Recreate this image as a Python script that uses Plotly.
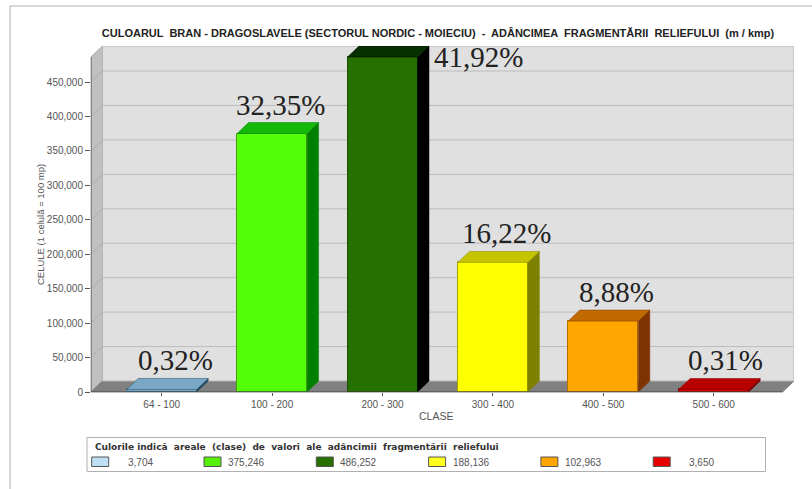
import plotly.graph_objects as go

categories = ["64 - 100", "100 - 200", "200 - 300", "300 - 400", "400 - 500", "500 - 600"]
cells = [3704, 375246, 486252, 188136, 102963, 3650]
percent_labels = ["0,32%", "32,35%", "41,92%", "16,22%", "8,88%", "0,31%"]
label_shift_x = [14, 8, 96, 14, 13, 12]
label_shift_y = [11, 11, -18, 11, 11, 11]
front_colors = ["#7ba7c7", "#55ff0a", "#267000", "#ffff00", "#ffa500", "#d40000"]
top_colors = ["#7ba7c7", "#14b80a", "#063000", "#c4c400", "#c06a00", "#b80000"]
side_colors = ["#1f4a60", "#008000", "#000000", "#808000", "#7f3300", "#800000"]
edge_colors = ["#3f6a85", "#3f9f10", "#1d5000", "#a0a000", "#b07000", "#900000"]
legend_colors = ["#bde0f5", "#55f00a", "#267000", "#ffff20", "#ffa500", "#e80000"]
y_ticks = [0, 50000, 100000, 150000, 200000, 250000, 300000, 350000, 400000, 450000]

title = "CULOARUL  BRAN - DRAGOSLAVELE (SECTORUL NORDIC - MOIECIU)  -  ADÂNCIMEA  FRAGMENTĂRII  RELIEFULUI  (m / kmp)"
legend_title = "Culorile indică  areale  (clase)  de  valori  ale  adâncimii  fragmentării  reliefului"

W, H = 812, 489
L, R, T, B = 91, 794, 46, 392
PX_PER_X = 110.4
PX_PER_Y = 34.44 / 50000
X0 = -(161.7 - L) / PX_PER_X
X1 = (R - 161.7) / PX_PER_X
Y1 = (B - T) / PX_PER_Y
DX = 11.5 / PX_PER_X
DY = 11 / PX_PER_Y
BW = 0.634


def px(v):
    return (v - L) / (R - L)


def py(v):
    return (B - v) / (B - T)


fig = go.Figure()

shapes = [
    dict(type="rect", layer="below", xref="x", yref="y", x0=X0 + DX, x1=X1, y0=DY, y1=Y1,
         fillcolor="#e0e0e0", line=dict(color="#b4b4b4", width=1)),
    dict(type="path", layer="below", xref="paper", yref="paper",
         path=f"M {px(L)} {py(B)} L {px(L + 11.5)} {py(B - 11)} L {px(L + 11.5)} {py(T)} L {px(L)} {py(T + 11)} Z",
         fillcolor="#c0c0c0", line=dict(color="#aaaaaa", width=1)),
    dict(type="path", layer="below", xref="paper", yref="paper",
         path=f"M {px(L)} {py(B)} L {px(L + 11.5)} {py(B - 11)} L {px(R)} {py(B - 11)} L {px(R - 11.5)} {py(B)} Z",
         fillcolor="#808080", line=dict(color="#808080", width=1)),
]
for t in y_ticks[1:]:
    shapes.append(dict(type="line", layer="below", xref="x", yref="y", x0=X0 + DX, x1=X1, y0=t + DY, y1=t + DY,
                       line=dict(color="#bcbcbc", width=1)))
    shapes.append(dict(type="line", layer="below", xref="x", yref="y", x0=X0, x1=X0 + DX, y0=t, y1=t + DY,
                       line=dict(color="#adadad", width=1)))
shapes.append(dict(type="line", layer="above", xref="x", yref="y", x0=X0, x1=X0, y0=0, y1=Y1 - DY,
                   line=dict(color="#555555", width=1)))
shapes.append(dict(type="line", layer="above", xref="x", yref="y", x0=X0, x1=X1 - DX, y0=0, y1=0,
                   line=dict(color="#444444", width=1)))

fig.add_trace(go.Bar(x=list(range(len(cells))), y=cells, width=BW, marker=dict(color=front_colors,
                     line=dict(color=edge_colors, width=1)), hoverinfo="skip", showlegend=False))

for i, v in enumerate(cells):
    a, b = i - BW / 2, i + BW / 2
    fig.add_trace(go.Scatter(x=[b, b + DX, b + DX, b, b], y=[0, DY, v + DY, v, 0], mode="lines",
                             fill="toself", fillcolor=side_colors[i], line=dict(color=side_colors[i], width=0.5),
                             hoverinfo="skip", showlegend=False))
    fig.add_trace(go.Scatter(x=[a, a + DX, b + DX, b, a], y=[v, v + DY, v + DY, v, v], mode="lines",
                             fill="toself", fillcolor=top_colors[i], line=dict(color=side_colors[i], width=0.5),
                             hoverinfo="skip", showlegend=False))

annotations = []
for i, v in enumerate(cells):
    annotations.append(dict(x=i, y=v, xref="x", yref="y", text=percent_labels[i], showarrow=False,
                            xanchor="center", yanchor="bottom", xshift=label_shift_x[i], yshift=label_shift_y[i],
                            font=dict(family="Liberation Serif", size=29, color="#222222")))

annotations.append(dict(x=px(41), y=py(225), xref="paper", yref="paper", text="CELULE (1 celulă = 100 mp)",
                        textangle=-90, showarrow=False, xanchor="center", yanchor="middle",
                        font=dict(family="Liberation Sans", size=9.5, color="#555555")))
annotations.append(dict(x=px(436), y=py(415.5), xref="paper", yref="paper", text="CLASE", showarrow=False,
                        xanchor="center", yanchor="middle",
                        font=dict(family="Liberation Sans", size=10.5, color="#555555")))

shapes.append(dict(type="rect", xref="paper", yref="paper", x0=px(87), x1=px(765.5), y0=py(471.5), y1=py(437.5),
                   fillcolor="#ffffff", line=dict(color="#b0b0b0", width=1), layer="above"))
annotations.append(dict(x=px(93), y=py(447), xref="paper", yref="paper", text=f"<b>{legend_title}</b>", showarrow=False,
                        xanchor="left", yanchor="middle", font=dict(family="DejaVu Sans", size=9, color="#333333")))
for i, v in enumerate(cells):
    sx = 91.7 + i * 112.3
    shapes.append(dict(type="rect", xref="paper", yref="paper", x0=px(sx), x1=px(sx + 17), y0=py(466.5), y1=py(457),
                       fillcolor=legend_colors[i], line=dict(color="#555555", width=1), layer="above"))
    annotations.append(dict(x=px(sx + 63), y=py(462), xref="paper", yref="paper", text=f"{v:,}", showarrow=False,
                            xanchor="right", yanchor="middle", font=dict(family="Liberation Sans", size=10, color="#555555")))

shapes.append(dict(type="line", xref="paper", yref="paper", x0=px(10), x1=px(10), y0=py(6), y1=py(489),
                   line=dict(color="#b0b0b0", width=1)))
shapes.append(dict(type="line", xref="paper", yref="paper", x0=px(10), x1=px(812), y0=py(6), y1=py(6),
                   line=dict(color="#b0b0b0", width=1)))

fig.update_layout(
    width=W, height=H, margin=dict(l=L, r=W - R, t=T, b=H - B, autoexpand=False),
    paper_bgcolor="#ffffff", plot_bgcolor="rgba(0,0,0,0)",
    title=dict(text=f"<b>{title}</b>", x=438 / W, xanchor="center", y=1 - 33 / H, yanchor="middle",
               font=dict(family="Liberation Sans", size=11, color="#222222")),
    bargap=0, showlegend=False, shapes=shapes, annotations=annotations,
    xaxis=dict(range=[X0, X1], tickmode="array", tickvals=list(range(len(categories))), ticktext=categories,
               ticks="outside", ticklen=3, tickcolor="#555555", showgrid=False, zeroline=False, showline=False,
               tickfont=dict(family="Liberation Sans", size=10, color="#555555")),
    yaxis=dict(range=[0, Y1], tickmode="array", tickvals=y_ticks, ticktext=[f"{t:,}" for t in y_ticks],
               ticks="outside", ticklen=5, tickcolor="#555555", showgrid=False, zeroline=False, showline=False,
               tickfont=dict(family="Liberation Sans", size=10, color="#555555")),
)

fig.write_html("out.html", config={"displayModeBar": False},
               post_script="document.body.style.margin='0';document.documentElement.style.overflow='hidden';")
